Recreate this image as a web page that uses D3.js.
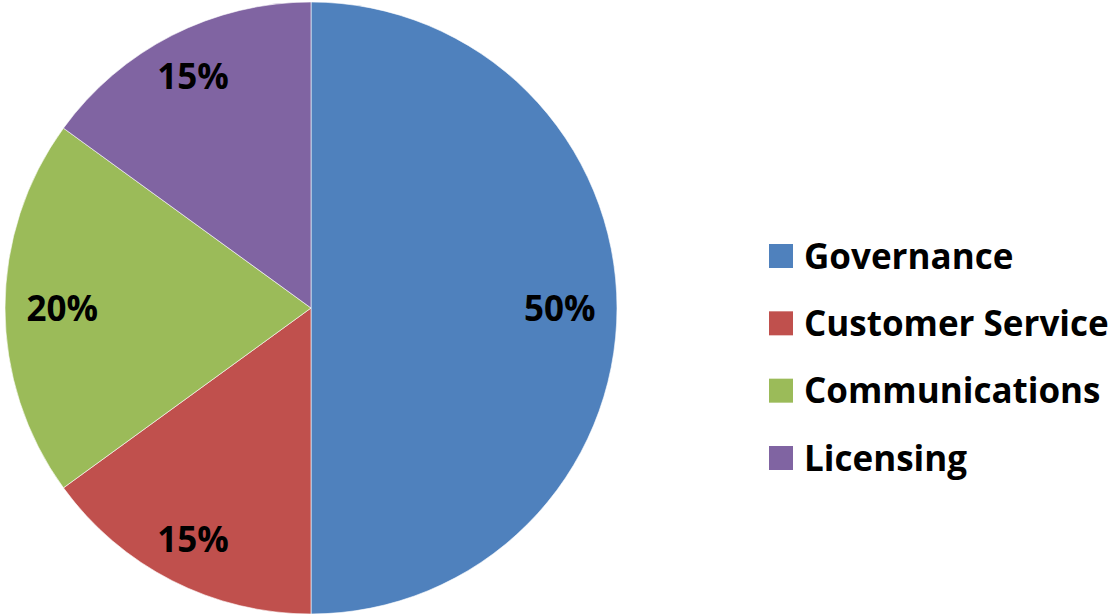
<!DOCTYPE html>
<html><head><meta charset="utf-8">
<script src="https://cdn.jsdelivr.net/npm/d3@7"></script>
<style>body{margin:0;background:#fff;}svg{display:block;}text{font-variant-ligatures:none;font-feature-settings:"liga" 0;}</style>
</head><body>
<svg id="c" width="1110" height="615"></svg>
<script>
const categories = ["Governance", "Customer Service", "Communications", "Licensing"];
const values = [50, 15, 20, 15];
const colors = ["#4F81BD", "#C0504D", "#9BBB59", "#8064A2"];

const svg = d3.select("#c");
const cx = 311, cy = 308, r = 306;
const font = "'Open Sans', Lato, sans-serif";

const pie = d3.pie().sort(null).value(d => d.v);
const data = pie(categories.map((c, i) => ({c, v: values[i], col: colors[i]})));
const arc = d3.arc().innerRadius(0).outerRadius(r);
const total = d3.sum(values);
// narrower slices push their label a little farther out (best-fit style)
const labelPos = d => {
  const span = d.endAngle - d.startAngle;
  const k = span < 1.2 ? 0.85 : 0.813;
  return d3.arc().innerRadius(r * k).outerRadius(r * k).centroid(d);
};

const g = svg.append("g").attr("transform", `translate(${cx},${cy})`);
g.selectAll("path").data(data).join("path")
  .attr("d", arc).attr("fill", d => d.data.col)
  .attr("stroke", "#ffffff").attr("stroke-width", 0.6);

g.selectAll("text").data(data).join("text")
  .attr("transform", d => `translate(${labelPos(d)})`)
  .attr("text-anchor", "middle").attr("dy", "0.36em")
  .attr("font-family", font).attr("font-weight", "bold").attr("font-size", 35)
  .attr("fill", "#000")
  .text(d => Math.round(d.data.v / total * 100) + "%");

const lg = svg.append("g");
const ly = d3.scalePoint().domain(categories).range([256, 458]);
const rows = lg.selectAll("g").data(categories).join("g")
  .attr("transform", d => `translate(769,${ly(d)})`);
rows.append("rect").attr("x", 0).attr("y", -12).attr("width", 24).attr("height", 24)
  .attr("fill", (d, i) => colors[i]);
rows.append("text").attr("x", 35).attr("dy", "0.36em")
  .attr("font-family", font).attr("font-weight", "bold").attr("font-size", 35)
  .attr("fill", "#000").text(d => d);
</script>
</body></html>
